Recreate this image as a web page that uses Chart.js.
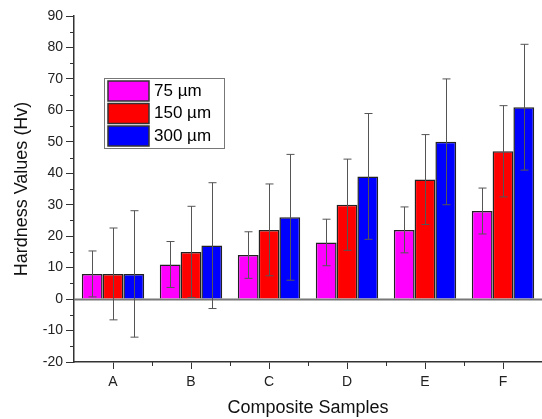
<!DOCTYPE html>
<html>
<head>
<meta charset="utf-8">
<script src="https://cdn.jsdelivr.net/npm/chart.js@4.4.1/dist/chart.umd.min.js"></script>
<style>
  html, body { margin: 0; padding: 0; background: #fff; }
  #wrap { width: 542px; height: 419px; }
</style>
</head>
<body>
<div id="wrap"><canvas id="hardness" width="542" height="419"></canvas></div>
<script>
var samples = ["A", "B", "C", "D", "E", "F"]
var seriesNames = ["75 µm", "150 µm", "300 µm"]
var hv75  = [8, 11, 14, 18, 22, 28]
var hv150 = [8, 15, 22, 30, 38, 47]
var hv300 = [8, 17, 26, 39, 50, 61]
var err75  = [7.3, 7.3, 7.4, 7.4, 7.3, 7.3]
var err150 = [14.6, 14.5, 14.6, 14.5, 14.3, 14.5]
var err300 = [20.1, 20, 20, 20, 20, 20]
var colors = ['#ff00ff', '#ff0000', '#0000ff']

var FONT = "'Liberation Sans', Arial, sans-serif"

// error bars, zero line, minor ticks and the boxed legend
var extras = {
    id: 'extras',
    beforeDatasetsDraw: function(chart) {
        var ctx = chart.ctx, a = chart.chartArea, y = chart.scales.y
        var y0 = Math.round(y.getPixelForValue(0)) + 0.5
        ctx.save()
        ctx.strokeStyle = '#777'
        ctx.lineWidth = 2
        ctx.beginPath()
        ctx.moveTo(a.left, y0)
        ctx.lineTo(a.right, y0)
        ctx.stroke()
        ctx.restore()
    },
    afterDatasetsDraw: function(chart) {
        var ctx = chart.ctx, y = chart.scales.y
        ctx.save()
        ctx.strokeStyle = '#555'
        ctx.lineWidth = 1
        chart.data.datasets.forEach(function(ds, i) {
            var meta = chart.getDatasetMeta(i)
            meta.data.forEach(function(bar, j) {
                var v = ds.data[j], e = ds.errors[j]
                var x = Math.round(bar.x) + 0.5
                var top = y.getPixelForValue(v + e)
                var bot = y.getPixelForValue(v - e)
                ctx.beginPath()
                ctx.moveTo(x, top); ctx.lineTo(x, bot)
                ctx.moveTo(x - 4, top); ctx.lineTo(x + 4, top)
                ctx.moveTo(x - 4, bot); ctx.lineTo(x + 4, bot)
                ctx.stroke()
            })
        })
        ctx.restore()
    },
    afterDraw: function(chart) {
        var ctx = chart.ctx, a = chart.chartArea, y = chart.scales.y, x = chart.scales.x
        ctx.save()
        ctx.strokeStyle = '#333'
        ctx.lineWidth = 1
        // minor y ticks
        for (var v = -15; v < 90; v += 10) {
            var py = Math.round(y.getPixelForValue(v)) + 0.5
            ctx.beginPath(); ctx.moveTo(a.left - 4, py); ctx.lineTo(a.left, py); ctx.stroke()
        }
        // minor x ticks at category boundaries
        for (var k = 1; k < samples.length; k++) {
            var px = Math.round((x.getPixelForValue(k - 1) + x.getPixelForValue(k)) / 2) + 0.5
            ctx.beginPath(); ctx.moveTo(px, a.bottom); ctx.lineTo(px, a.bottom + 4); ctx.stroke()
        }
        // legend box
        var bx = 104, by = 78, bw = 120, bh = 70
        ctx.strokeStyle = '#777'
        ctx.strokeRect(bx + 0.5, by + 0.5, bw, bh)
        ctx.font = '17px ' + FONT
        ctx.textBaseline = 'middle'
        chart.data.datasets.forEach(function(ds, i) {
            var ry = by + 3 + i * 22.5
            ctx.fillStyle = ds.backgroundColor
            ctx.fillRect(bx + 4, ry, 41, 20)
            ctx.strokeStyle = '#333'
            ctx.lineWidth = 1.5
            ctx.strokeRect(bx + 4, ry, 41, 20)
            ctx.fillStyle = '#000'
            ctx.fillText(ds.label, bx + 50, ry + 10)
        })
        ctx.restore()
    }
}

document.addEventListener("DOMContentLoaded", function() {
    var ctx = document.getElementById("hardness").getContext('2d')
    var values = [hv75, hv150, hv300]
    var errs = [err75, err150, err300]
    new Chart(ctx, {
        type: 'bar',
        data: {
            labels: samples,
            datasets: seriesNames.map(function(name, i) {
                return {
                    label: name,
                    data: values[i],
                    errors: errs[i],
                    backgroundColor: colors[i],
                    borderColor: '#222',
                    borderWidth: 1.5,
                    categoryPercentage: 0.8,
                    barPercentage: 1.0
                }
            })
        },
        options: {
            responsive: false,
            animation: false,
            layout: { padding: { top: 16, right: 0, left: 7, bottom: 0 } },
            plugins: {
                legend: { display: false },
                tooltip: { enabled: false }
            },
            scales: {
                x: {
                    grid: { offset: false, drawOnChartArea: false, tickLength: 7, color: '#333', lineWidth: 1 },
                    border: { color: '#333', width: 1.5 },
                    ticks: { color: '#222', font: { family: FONT, size: 14 }, padding: 5 },
                    title: { display: true, text: 'Composite Samples', color: '#111', font: { family: FONT, size: 18 }, padding: { top: 0, bottom: 0 } },
                    afterFit: function(s) { s.height = 57 }
                },
                y: {
                    min: -20,
                    max: 90,
                    ticks: { stepSize: 10, color: '#222', font: { family: FONT, size: 14 }, padding: 3 },
                    grid: { drawOnChartArea: false, tickLength: 8, color: '#333', lineWidth: 1 },
                    border: { color: '#333', width: 1.5 },
                    title: { display: true, text: 'Hardness Values (Hv)', color: '#111', font: { family: FONT, size: 18 }, padding: { bottom: 2 } },
                    afterFit: function(s) { s.width = 67 }
                }
            }
        },
        plugins: [extras]
    })
})
</script>
</body>
</html>
